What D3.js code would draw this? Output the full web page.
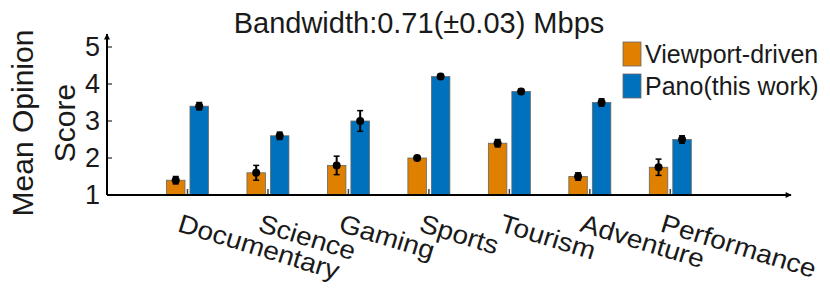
<!DOCTYPE html>
<html>
<head>
<meta charset="utf-8">
<script src="https://cdn.jsdelivr.net/npm/d3@7"></script>
<style>
  body { margin: 0; background: #fff; }
  text { font-family: "Liberation Sans", Arial, Helvetica, sans-serif; fill: #1a1a1a; }
</style>
</head>
<body>
<div id="chart"></div>
<script>
// chart data
const categories = ["Documentary", "Science", "Gaming", "Sports", "Tourism", "Adventure", "Performance"];
const viewportMean = [1.4, 1.6, 1.8, 2.0, 2.4, 1.5, 1.75];
const viewportErr = [0.1, 0.2, 0.25, 0.02, 0.1, 0.1, 0.22];
const panoMean = [3.4, 2.6, 3.0, 4.2, 3.8, 3.5, 2.5];
const panoErr = [0.1, 0.1, 0.28, 0.06, 0.06, 0.1, 0.1];
const yTicks = [1, 2, 3, 4, 5];
const seriesNames = ["Viewport-driven", "Pano(this work)"];
const colors = ["#df8000", "#0072bd"];

const width = 830;
const height = 288;

const svg = d3.select("#chart")
  .append("svg")
  .attr("width", width)
  .attr("height", height);

// positions 1..7 on a 0..8.5 axis, like the matlab figure
const x = d3.scaleLinear().domain([0, 8.5]).range([107, 791]);
const y = d3.scaleLinear().domain([1, 5]).range([195, 47]);

const series = [
  { name: seriesNames[0], mean: viewportMean, err: viewportErr, color: colors[0], off: -21 },
  { name: seriesNames[1], mean: panoMean, err: panoErr, color: colors[1], off: 2.5 }
];
const barW = 18.5;

// category ticks (small, pointing up)
svg.append("g")
  .selectAll("line")
  .data(categories)
  .enter().append("line")
  .attr("x1", (d, i) => x(i + 1))
  .attr("x2", (d, i) => x(i + 1))
  .attr("y1", y(1))
  .attr("y2", y(1) - 6)
  .attr("stroke", "#444")
  .attr("stroke-width", 1.5);

// bars + error bars
series.forEach((s) => {
  const g = svg.append("g");
  g.selectAll("rect")
    .data(s.mean)
    .enter().append("rect")
    .attr("x", (d, i) => x(i + 1) + s.off)
    .attr("y", (d) => y(d))
    .attr("width", barW)
    .attr("height", (d) => y(1) - y(d))
    .attr("fill", s.color)
    .attr("stroke", "#666")
    .attr("stroke-width", 0.8);

  const eb = g.selectAll("g.err")
    .data(s.mean)
    .enter().append("g")
    .attr("class", "err")
    .attr("transform", (d, i) => `translate(${x(i + 1) + s.off + barW / 2},0)`);

  eb.append("line")
    .attr("y1", (d, i) => y(d - s.err[i]))
    .attr("y2", (d, i) => y(d + s.err[i]))
    .attr("stroke", "#000")
    .attr("stroke-width", 2);
  [-1, 1].forEach((sign) => {
    eb.append("line")
      .attr("x1", -3)
      .attr("x2", 3)
      .attr("y1", (d, i) => y(d + sign * s.err[i]))
      .attr("y2", (d, i) => y(d + sign * s.err[i]))
      .attr("stroke", "#000")
      .attr("stroke-width", 1.5);
  });
  eb.append("circle")
    .attr("cy", (d) => y(d))
    .attr("r", 4)
    .attr("fill", "#000");
});

// arrow marker
svg.append("defs").append("marker")
  .attr("id", "arrow")
  .attr("viewBox", "0 0 10 10")
  .attr("refX", 9)
  .attr("refY", 5)
  .attr("markerWidth", 8)
  .attr("markerHeight", 6)
  .attr("markerUnits", "userSpaceOnUse")
  .attr("orient", "auto")
  .append("path")
  .attr("d", "M0,0 L10,5 L0,10 z")
  .attr("fill", "#000");

// axes lines with arrows
svg.append("line")
  .attr("x1", x(0)).attr("x2", x(8.5))
  .attr("y1", y(1)).attr("y2", y(1))
  .attr("stroke", "#000").attr("stroke-width", 2)
  .attr("marker-end", "url(#arrow)");
svg.append("line")
  .attr("x1", x(0)).attr("x2", x(0))
  .attr("y1", y(1)).attr("y2", 34)
  .attr("stroke", "#000").attr("stroke-width", 2)
  .attr("marker-end", "url(#arrow)");

// y ticks and labels
const yAxis = svg.append("g");
yAxis.selectAll("line")
  .data(yTicks)
  .enter().append("line")
  .attr("x1", x(0)).attr("x2", x(0) + 5)
  .attr("y1", (d) => y(d)).attr("y2", (d) => y(d))
  .attr("stroke", "#000").attr("stroke-width", 1);
yAxis.selectAll("text")
  .data(yTicks)
  .enter().append("text")
  .attr("x", 100)
  .attr("y", (d) => y(d) + 9)
  .attr("text-anchor", "end")
  .attr("font-size", 27)
  .text((d) => d);

// x labels, rotated (font in the original is a bit wider, hence the x stretch)
svg.append("g")
  .selectAll("text")
  .data(categories)
  .enter().append("text")
  .attr("transform", (d, i) => `translate(${x(i + 1) - 11},${231}) rotate(17) scale(1.08,1)`)
  .attr("font-size", 26)
  .text((d) => d);

// y label
const yl = svg.append("text")
  .attr("transform", `translate(0,${123}) rotate(-90)`)
  .attr("text-anchor", "middle")
  .attr("font-size", 30);
yl.append("tspan").attr("x", 0).attr("y", 33).text("Mean Opinion");
yl.append("tspan").attr("x", 0).attr("y", 75).text("Score");

// title
svg.append("text")
  .attr("x", 419)
  .attr("y", 33)
  .attr("text-anchor", "middle")
  .attr("font-size", 29)
  .text("Bandwidth:0.71(\u00b10.03) Mbps");

// legend
const legend = svg.append("g")
  .selectAll("g")
  .data(series)
  .enter().append("g")
  .attr("transform", (d, i) => `translate(623,${42 + i * 32})`);
legend.append("rect")
  .attr("width", 18)
  .attr("height", 24)
  .attr("fill", (d) => d.color)
  .attr("stroke", "#666")
  .attr("stroke-width", 0.8);
legend.append("text")
  .attr("x", 22)
  .attr("y", 21)
  .attr("font-size", 25)
  .text((d) => d.name);
</script>
</body>
</html>
